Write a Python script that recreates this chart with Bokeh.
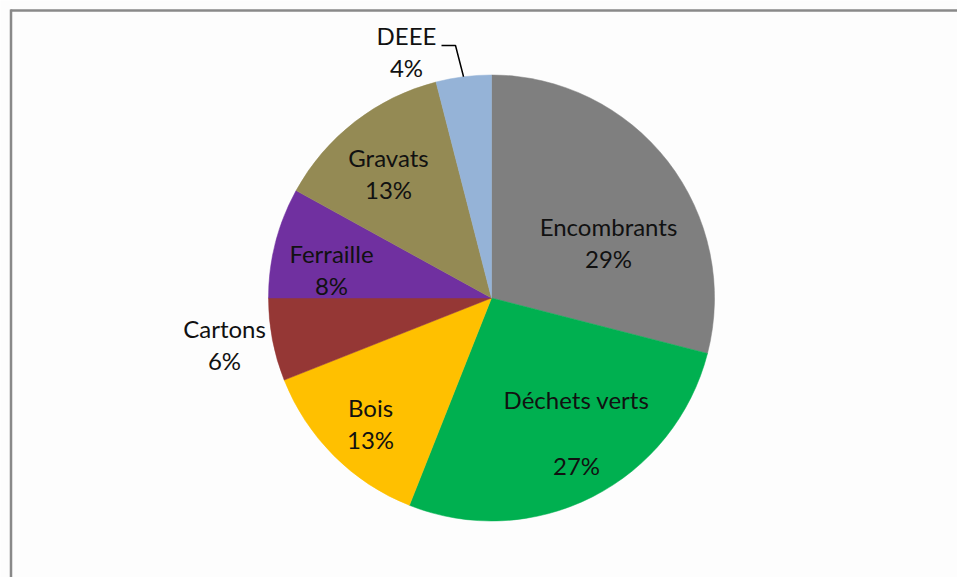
import math
from bokeh.plotting import figure
from bokeh.models import ColumnDataSource, Range1d
from bokeh.embed import file_html
from bokeh.resources import INLINE
from bokeh.core.properties import value

# ---- data ----
categories = ["Encombrants", "Déchets verts", "Bois", "Cartons", "Ferraille", "Gravats", "DEEE"]
values = [29, 27, 13, 6, 8, 13, 4]
colors = ["#7F7F7F", "#00B050", "#FFC000", "#953735", "#7030A0", "#948A54", "#95B3D7"]

# ---- layout (pixel coordinates in the page, y downward) ----
W, H = 957, 577
CX, CY, R = 491, 297.5, 223
# label x centre, name baseline, percent baseline
label_layout = [
    (608, 236, 268),
    (576, 409, 475),
    (370, 417, 449),
    (224, 338, 370),
    (331, 263, 295),
    (388, 167, 199),
    (406, 45, 77),
]
TEXT_SHIFT = 10  # empirical baseline correction (px)
FONT = "Lato"
FONT_SIZE = "24px"

def fy(y):
    return H - y

p = figure(width=W, height=H, output_backend="svg", toolbar_location=None,
           x_range=Range1d(0, W), y_range=Range1d(0, H),
           min_border=0, background_fill_color="#FDFDFD",
           border_fill_color="#FDFDFD")
p.axis.visible = False
p.grid.visible = False
p.outline_line_color = None

# chart frame (top and left edges visible)
p.line([10, W + 5], [fy(10), fy(10)], line_color="#898989", line_width=2.5)
p.line([10.5, 10.5], [fy(9), -5], line_color="#898989", line_width=2.5)

# wedges: start at 12 o'clock, clockwise
total = float(sum(values))
starts, ends, mids = [], [], []
cum = 0.0
for v in values:
    a0 = math.pi / 2 - 2 * math.pi * cum / total
    cum += v
    a1 = math.pi / 2 - 2 * math.pi * cum / total
    starts.append(a1)
    ends.append(a0)
    mids.append((a0 + a1) / 2)

src = ColumnDataSource(dict(start=starts, end=ends, color=colors, cat=categories))
p.wedge(x=CX, y=fy(CY), radius=R, start_angle="start", end_angle="end",
        fill_color="color", line_color="color", line_width=0.5, source=src)

# labels
names_x = [l[0] for l in label_layout]
names_y = [fy(l[1]) + TEXT_SHIFT for l in label_layout]
pct_y = [fy(l[2]) + TEXT_SHIFT for l in label_layout]
pct_text = [f"{round(100 * v / total)}%" for v in values]

p.text(x=names_x, y=names_y, text=categories, text_align="center",
       text_baseline="alphabetic", text_font=value(FONT), text_font_size=FONT_SIZE,
       text_color="#111111")
p.text(x=names_x, y=pct_y, text=pct_text, text_align="center",
       text_baseline="alphabetic", text_font=value(FONT), text_font_size=FONT_SIZE,
       text_color="#111111")

# leader line for DEEE
i = categories.index("DEEE")
ex = CX + R * math.cos(mids[i])
ey = fy(CY) + R * math.sin(mids[i])
p.line([441, 455, ex], [fy(45), fy(45), ey], line_color="#000000", line_width=1.5)

open("out.html", "w").write(file_html(p, INLINE))
